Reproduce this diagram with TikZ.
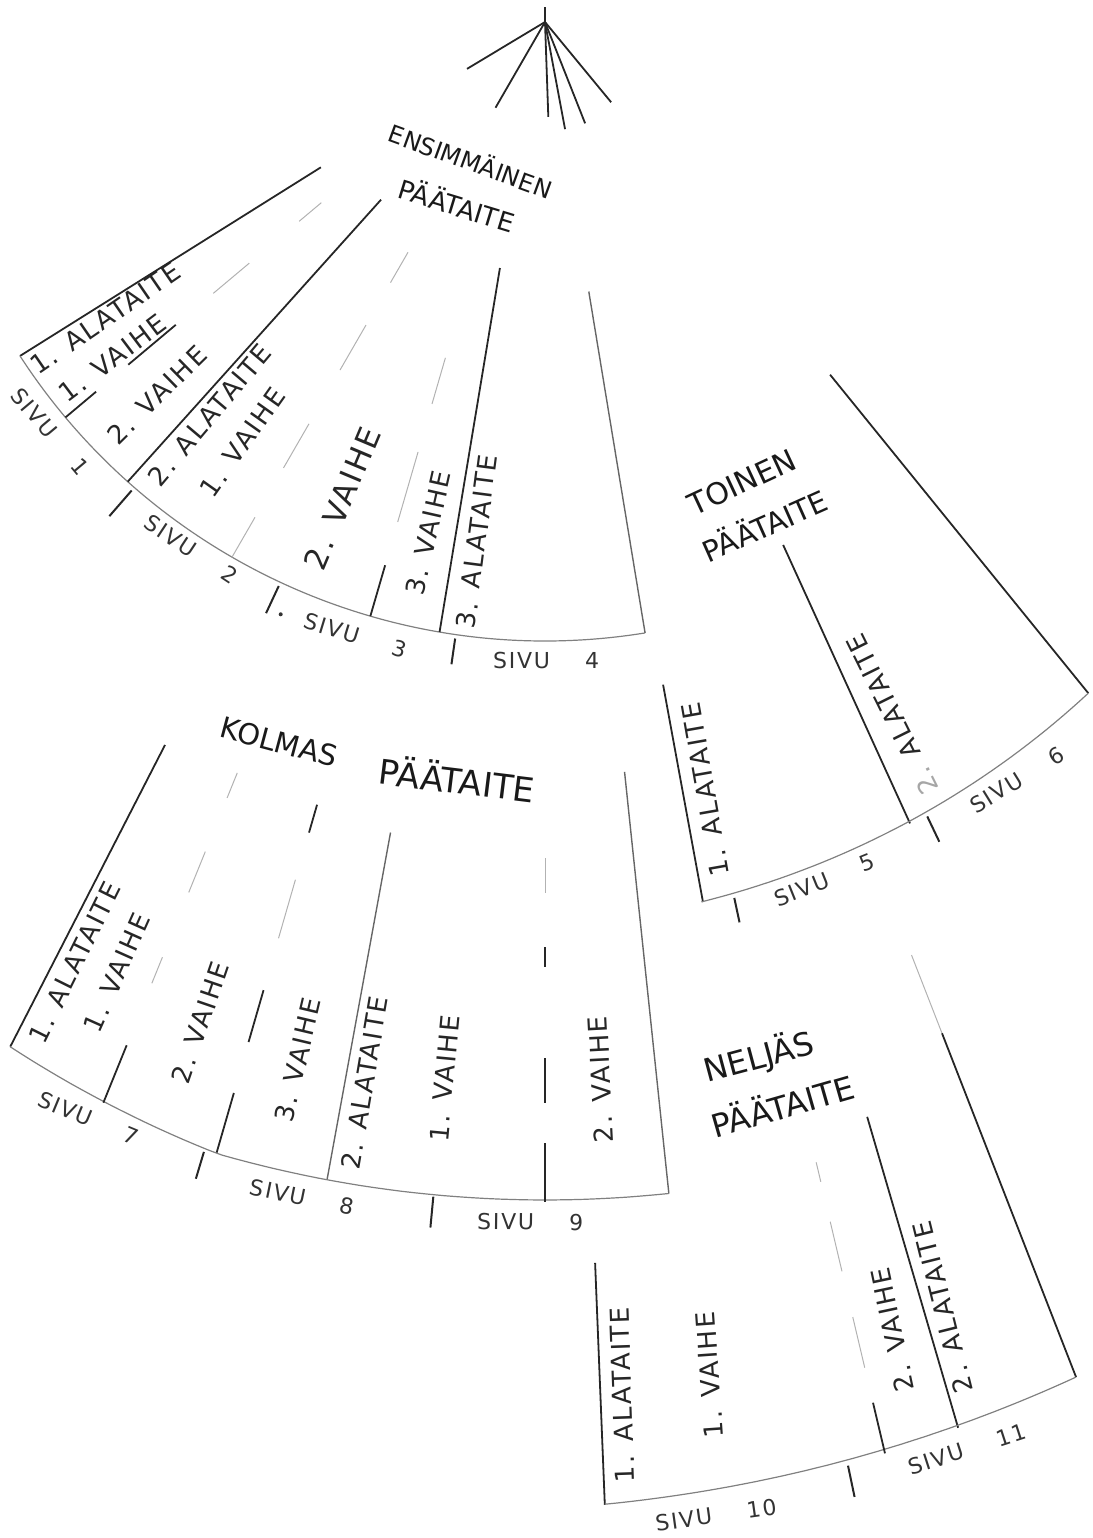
\documentclass[tikz,border=0pt]{standalone}
\usepackage{fontspec}
\setmainfont{DejaVu Sans}
\newfontfamily\hand{DejaVu Sans}[LetterSpace=8]
\usetikzlibrary{calc}
\tikzset{
    rim/.style   =  {draw=black!50,
                    line width=0.6pt},
    fold/.style  =  {draw=black!85,
                    line width=0.9pt},
    soft/.style  =  {draw=black!60,
                    line width=0.7pt},
    faint/.style =  {draw=black!30,
                    line width=0.5pt},
    tick/.style  =  {draw=black!85,
                    line width=1pt},
    lbl/.style   =  {text=black!85,
                    inner sep=0pt,
                    font=\hand\fontsize{13}{15}\selectfont},
    big/.style   =  {lbl,
                    font=\hand\fontsize{15.5}{18}\selectfont},
    page/.style  =  {text=black!80,
                    inner sep=0pt,
                    font=\hand\fontsize{11}{13}\selectfont},
    title/.style =  {text=black!90,
                    inner sep=0pt,
                    font=\fontsize{#1}{#1}\selectfont}}

\begin{document}
\begin{tikzpicture}[x=0.5pt,y=-0.5pt]
    \useasboundingbox (0,0) rectangle (1093,1538);
    \coordinate (hub) at (545,15);
    \coordinate (top) at (545,22);
    % the key at the top
    \draw[fold] (545,7) -- (top);
    \foreach \a/\r in {149/91, 120/99, 88/95, 79.4/109, 68.4/109, 50.5/104}
        \draw[fold] (top) -- ++(\a:\r);

    % titles
    \node[title=12, rotate=-20]   (t1a) at (471,160)  {ENSIMMÄINEN};
    \node[title=13, rotate=-17]   (t1b) at (457,204)  {PÄÄTAITE};
    \node[title=15, rotate=25]    (t2a) at (742,482)  {TOINEN};
    \node[title=14.5, rotate=24]  (t2b) at (764,524)  {PÄÄTAITE};
    \node[title=14.5, rotate=-15] (t3a) at (279,742)  {KOLMAS};
    \node[title=17, rotate=-7]    (t3b) at (457,778)  {PÄÄTAITE};
    \node[title=16, rotate=15]    (t4a) at (759,1057) {NELJÄS};
    \node[title=16, rotate=16]    (t4b) at (782,1104) {PÄÄTAITE};

    \begin{scope}[shift={(hub)}]
        % first fan
        \draw[fold] (145.8:271) -- (147:626);
        \draw[rim]  (147:626) arc[start angle=147, end angle=80.8, radius=626];
        \draw[soft] (81:280) -- (80.8:626);
        \draw[fold] (131.6:247) -- (131.8:626);
        \draw[fold] (100.1:257) -- (99.7:626);
        \foreach \a/\b in {292/321, 386/433} \draw[faint] (140:\a) -- (140:\b);
        \foreach \a/\b in {482/544, 586/626} \draw[fold] (140:\a) -- (140:\b);
        \foreach \a/\b in {274/309, 358/410, 472/523, 580/626} \draw[faint] (120:\a) -- (120:\b);
        \foreach \a/\b in {357/405, 455/528} \draw[faint] (106.2:\a) -- (106.2:\b);
        \draw[fold] (106.2:573) -- (106.2:626);
        \draw[tick] (131:630) -- (131:664);
        \draw[tick] (115:630) -- (115:660);
        \fill[black!80] (113.8:655) circle[radius=2];
        \draw[tick] (98.2:630) -- (98.2:656);

        \node[lbl, rotate=34.5] (a1) at (145.4:534) {1. ALATAITE};
        \node[lbl, rotate=37]   (a2) at (141.6:552) {1. VAIHE};
        \node[lbl, rotate=44.5] (a3) at (135.6:543) {2. VAIHE};
        \node[lbl, rotate=49.8] (a4) at (130:522)   {2. ALATAITE};
        \node[lbl, rotate=54.7] (a5) at (125.3:524) {1. VAIHE};
        \node[big, rotate=67.2] (a6) at (112.8:524) {2. VAIHE};
        \node[lbl, rotate=77.3] (a7) at (102.7:531) {3. VAIHE};
        \node[lbl, rotate=82.6] (a8) at (97.4:531)  {3. ALATAITE};
        \node[page, rotate=-50]   (s1) at (139.9:647) {SIVU\hspace{1.6em}1};
        \node[page, rotate=-33.5] (s2) at (123.5:641) {SIVU\hspace{1.6em}2};
        \node[page, rotate=-17]   (s3) at (107:649)   {SIVU\hspace{1.6em}3};
        \node[page, rotate=0]     (s4) at (89.9:645)  {SIVU\hspace{1.6em}4};

        % second fan
        \draw[fold] (80:680) -- (79.9:901);
        \draw[fold] (65.8:581) -- (65.7:887);
        \draw[fold] (51.6:459) -- (51.3:869);
        \draw[rim] plot[domain=80:51.3, samples=40] (\x:{869+(\x-51.3)*1.1});
        \draw[tick] (77.9:903) -- (77.9:928);
        \draw[tick] (64.5:888) -- (64.5:916);

        \node[lbl, rotate=100]   (b1) at (78.3:791) {1. ALATAITE};
        \node[lbl, rotate=116.4] (b2) at (63.6:781) {{\color{black!35}2.} ALATAITE};
        \node[page, rotate=22]   (s5) at (72.1:909) {SIVU\hspace{1.6em}5};
        \node[page, rotate=31.7] (s6) at (58.3:899) {SIVU\hspace{1.6em}6};

        % third fan
        \draw[fold] (117.5:823) -- (117.4:1162);
        \draw[soft] (84:761) -- (84:1185);
        \draw[soft] (100.7:832) -- (100.6:1185);
        \draw[rim] plot[domain=117.4:84, samples=50] (\x:{1185-2*max(\x-106,0)});
        \foreach \a/\b in {818/845, 903/947, 1017/1045} \draw[faint] (112.1:\a) -- (112.1:\b);
        \draw[fold] (112.1:1112) -- (112.1:1174);
        \draw[faint] (106.1:900) -- (106.1:961);
        \foreach \a/\b in {822/851, 1015/1069, 1122/1184} \draw[fold] (106.1:\a) -- (106.1:\b);
        \draw[faint] (90:843) -- (90:878);
        \foreach \a/\b in {932/952, 1043/1088, 1128/1187} \draw[fold] (90:\a) -- (90:\b);
        \draw[tick] (106.7:1187) -- (106.7:1215);
        \draw[tick] (95.4:1187) -- (95.4:1218);

        \node[lbl, rotate=63.6] (c1) at (116.4:1058) {1. ALATAITE};
        \node[lbl, rotate=65.9] (c2) at (114.1:1049) {1. VAIHE};
        \node[lbl, rotate=71.1] (c3) at (108.9:1065) {2. VAIHE};
        \node[lbl, rotate=76.7] (c4) at (103.3:1074) {3. VAIHE};
        \node[lbl, rotate=80.4] (c5) at (99.6:1083)  {2. ALATAITE};
        \node[lbl, rotate=84.6] (c6) at (95.4:1068)  {1. VAIHE};
        \node[lbl, rotate=93]   (c7) at (87:1066)    {2. VAIHE};
        \node[page, rotate=-22.5] (s7) at (112.5:1194) {SIVU\hspace{1.6em}7};
        \node[page, rotate=-11.6] (s8) at (101.6:1207) {SIVU\hspace{1.6em}8};
        \node[page, rotate=-0.7]  (s9) at (90.7:1207)  {SIVU\hspace{1.6em}9};

        % fourth fan
        \draw[fold] (87.7:1249) -- (87.7:1491);
        \draw[fold] (73.7:1148) -- (73.7:1472);
        \draw[faint] (68.7:1009) -- (68.7:1093);
        \draw[fold] (68.7:1093) -- (68.7:1462);
        \draw[rim] plot[domain=87.7:68.7, samples=40] (\x:{1462+(\x-68.7)*1.5});
        \foreach \a/\b in {1179/1199, 1240/1291, 1338/1390} \draw[faint] (76.7:\a) -- (76.7:\b);
        \draw[fold] (76.7:1426) -- (76.7:1478);
        \draw[tick] (78.2:1482) -- (78.2:1514);

        \node[lbl, rotate=92]  (d1) at (86.8:1382) {1. ALATAITE};
        \node[lbl, rotate=94]  (d2) at (83.1:1370) {1. VAIHE};
        \node[lbl, rotate=102] (d3) at (75.2:1360) {2. VAIHE};
        \node[lbl, rotate=104] (d4) at (72.9:1352) {2. ALATAITE};
        \node[page, rotate=8]  (s10) at (83.5:1510) {SIVU\hspace{1.6em}10};
        \node[page, rotate=18] (s11) at (73.6:1495) {SIVU\hspace{1.6em}11};
    \end{scope}
\end{tikzpicture}
\end{document}
